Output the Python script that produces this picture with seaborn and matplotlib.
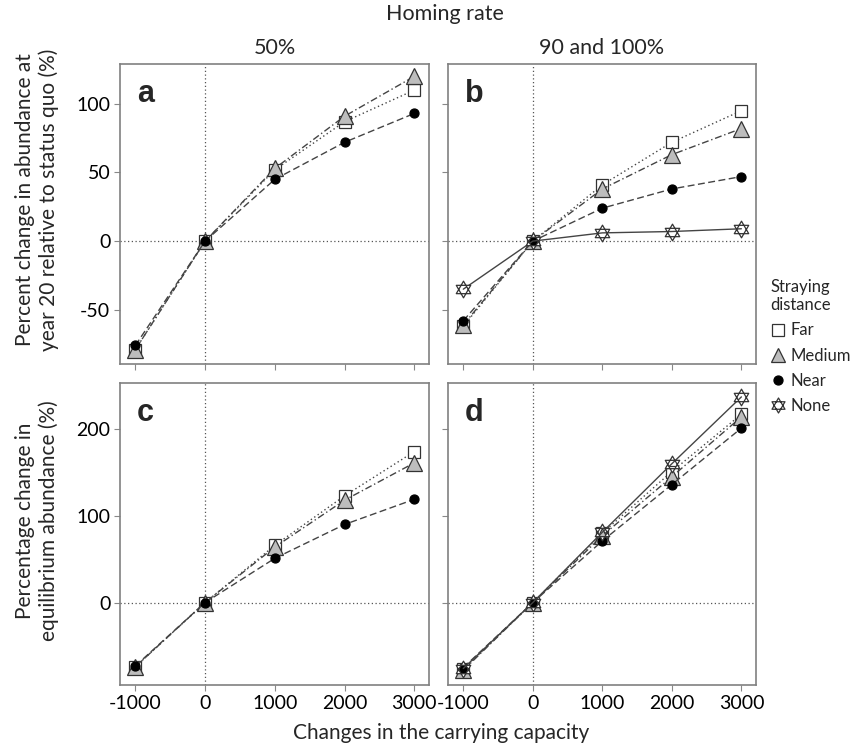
import numpy as np
import pandas as pd
import matplotlib
matplotlib.use("Agg")
import matplotlib.pyplot as plt
from matplotlib.path import Path
from matplotlib.lines import Line2D
import seaborn as sns

sns.set_style("white")
plt.rcParams['font.family'] = ['Lato', 'DejaVu Sans']
plt.rcParams['axes.unicode_minus'] = False

# ---- data ----
capacity = [-1000, 0, 1000, 2000, 3000]

# Panel a: 50% homing, abundance at year 20
a_far = [-79, 0, 52, 87, 110]
a_medium = [-79, 0, 53, 91, 120]
a_near = [-76, 0, 45, 72, 93]

# Panel b: 90 and 100% homing, abundance at year 20
b_far = [-62, 0, 41, 72, 95]
b_medium = [-61, 0, 38, 63, 82]
b_near = [-58, 0, 24, 38, 47]
b_none = [-35, 0, 6, 7, 9]

# Panel c: 50% homing, equilibrium abundance
c_far = [-74, 0, 66, 123, 174]
c_medium = [-74, 0, 64, 118, 161]
c_near = [-73, 0, 51, 90, 119]

# Panel d: 90 and 100% homing, equilibrium abundance
d_far = [-77, 0, 80, 151, 217]
d_medium = [-78, 0, 77, 145, 214]
d_near = [-75, 0, 71, 136, 201]
d_none = [-76, 0, 81, 160, 237]

series_names = ["Far", "Medium", "Near", "None"]
col_titles = ["50%", "90 and 100%"]
panel_letters = ["a", "b", "c", "d"]
x_ticks = [-1000, 0, 1000, 2000, 3000]
y_ticks_top = [-50, 0, 50, 100]
y_ticks_bottom = [0, 100, 200]

# ---- styles ----
star_verts = []
star_codes = []
for sgn in (1, -1):
    pts = [(0, sgn * 1.0), (0.866, -sgn * 0.5), (-0.866, -sgn * 0.5), (0, sgn * 1.0)]
    star_verts += pts
    star_codes += [Path.MOVETO, Path.LINETO, Path.LINETO, Path.CLOSEPOLY]
star = Path(star_verts, star_codes)

edge = "#333333"
styles = {
    "Far": dict(marker="s", linestyle=(0, (1, 2)), mfc="white", mec=edge, ms=9),
    "Medium": dict(marker="^", linestyle=(0, (5, 2, 1, 2)), mfc="#bdbdbd", mec=edge, ms=11),
    "Near": dict(marker="o", linestyle=(0, (5, 2.5)), mfc="black", mec="black", ms=6.5),
    "None": dict(marker=star, linestyle="-", mfc="white", mec=edge, ms=12),
}

panels = [
    {"Far": a_far, "Medium": a_medium, "Near": a_near},
    {"Far": b_far, "Medium": b_medium, "Near": b_near, "None": b_none},
    {"Far": c_far, "Medium": c_medium, "Near": c_near},
    {"Far": d_far, "Medium": d_medium, "Near": d_near, "None": d_none},
]

W, H = 857, 744
fig = plt.figure(figsize=(W / 100, H / 100), dpi=100)


def box(l, t, r, b):
    return [l / W, 1 - b / H, (r - l) / W, (b - t) / H]


axes = [
    fig.add_axes(box(120, 64, 429, 364)),
    fig.add_axes(box(448, 64, 756, 364)),
    fig.add_axes(box(120, 383, 429, 685)),
    fig.add_axes(box(448, 383, 756, 685)),
]

for i, ax in enumerate(axes):
    ax.axvline(0, color="#555555", lw=0.9, ls=(0, (1, 2)), zorder=0)
    ax.axhline(0, color="#555555", lw=0.9, ls=(0, (1, 2)), zorder=0)
    for name in series_names:
        if name not in panels[i]:
            continue
        st = styles[name]
        df = pd.DataFrame({"x": capacity, "y": panels[i][name]})
        sns.lineplot(data=df, x="x", y="y", ax=ax, color="#444444", lw=1.0,
                     linestyle=st["linestyle"], marker=st["marker"],
                     markerfacecolor=st["mfc"], markeredgecolor=st["mec"],
                     markersize=st["ms"], markeredgewidth=0.9, zorder=3)
    ax.set_xlim(-1220, 3210)
    ax.set_xticks(x_ticks)
    if i < 2:
        ax.set_ylim(-89.5, 129)
        ax.set_yticks(y_ticks_top)
    else:
        ax.set_ylim(-95, 253)
        ax.set_yticks(y_ticks_bottom)
    ax.set_xlabel("")
    ax.set_ylabel("")
    ax.tick_params(axis="both", which="both", direction="out", length=4, width=0.8,
                   color="#888888", labelsize=14, labelcolor="black", pad=3,
                   left=True, bottom=True)
    if i < 2:
        ax.tick_params(labelbottom=False)
    if i in (1, 3):
        ax.tick_params(labelleft=False)
    for sp in ax.spines.values():
        sp.set_visible(True)
        sp.set_color("#808080")
        sp.set_linewidth(1.2)
    ax.text(0.055, 0.95, panel_letters[i], transform=ax.transAxes, ha="left", va="top",
            fontsize=22, fontweight="bold", family=["Liberation Sans", "DejaVu Sans"])

axes[0].set_title(col_titles[0], fontsize=15.5, pad=7)
axes[1].set_title(col_titles[1], fontsize=15.5, pad=7)
fig.text(445 / W, 1 - 14 / H, "Homing rate", ha="center", va="center", fontsize=15.5)

fig.text(37 / W, 1 - 200 / H, "Percent change in abundance at\nyear 20 relative to status quo (%)",
         rotation=90, ha="center", va="center", fontsize=15, linespacing=1.25)
fig.text(37 / W, 1 - 521 / H, "Percentage change in\nequilibrium abundance (%)",
         rotation=90, ha="center", va="center", fontsize=15, linespacing=1.25)
fig.text(441 / W, 1 - 733 / H, "Changes in the carrying capacity", ha="center", va="center",
         fontsize=15)

handles = []
for name in series_names:
    st = styles[name]
    ms = st["ms"] * (0.9 if name != "Near" else 1.0)
    handles.append(Line2D([], [], linestyle="none", marker=st["marker"], markerfacecolor=st["mfc"],
                          markeredgecolor=st["mec"], markersize=ms, markeredgewidth=0.9))
leg = fig.legend(handles, series_names, title="Straying\ndistance", loc="upper left",
                 bbox_to_anchor=(764 / W, 1 - 272 / H), frameon=False, fontsize=12,
                 title_fontsize=12, handlelength=0.9, handletextpad=0.3, labelspacing=0.55,
                 borderaxespad=0, alignment="left")

fig.savefig("out.png", dpi=100)
